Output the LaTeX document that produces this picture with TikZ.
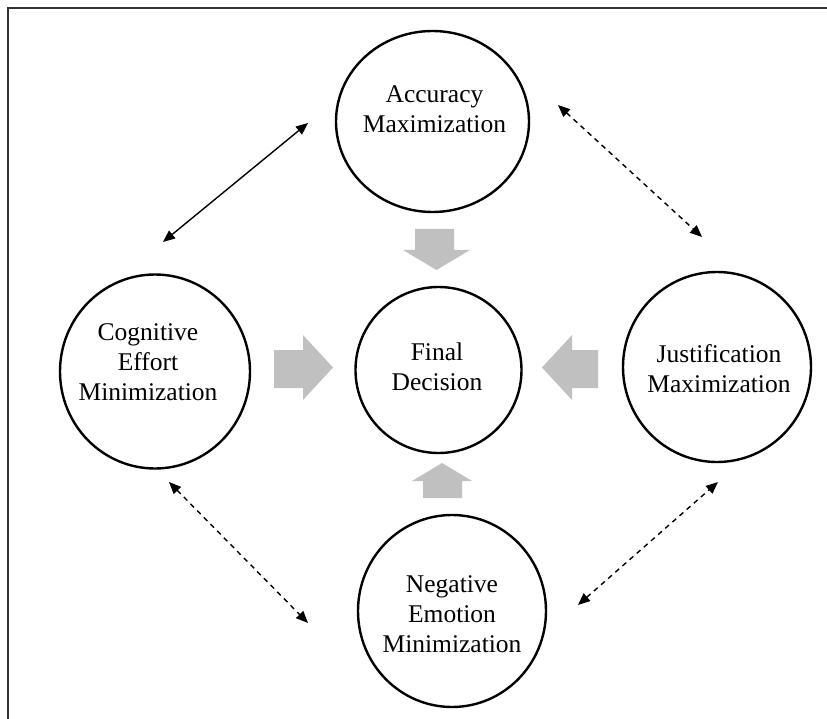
\documentclass[tikz,border=0pt]{standalone}
\usepackage{fontspec}
\setmainfont{Liberation Serif}
\usetikzlibrary{arrows.meta,shapes.geometric}
\definecolor{blockgray}{HTML}{C0C0C0}
\definecolor{framegray}{HTML}{333333}
\begin{document}
\begin{tikzpicture}[x=1pt,y=-1pt,
  oval/.style={ellipse,draw=black,line width=2.4pt,inner sep=0pt},
  txt/.style={align=center,font=\fontsize{25.5}{30}\selectfont,inner sep=0pt},
  link/.style={line width=1.4pt,{Triangle[length=12pt,width=10pt]}-{Triangle[length=12pt,width=10pt]}},
  dlink/.style={link,dash pattern=on 5pt off 4.5pt},
  block/.style={fill=blockgray,draw=none}]
\useasboundingbox (0,0) rectangle (827,719);
% outer frame, open to the right and bottom
\begin{scope}
\clip (0,0) rectangle (827,719);
\draw[framegray,line width=1.8pt] (8,740) -- (8,8) -- (840,8);
\end{scope}

% the five factors
\node[oval,minimum width=193pt,minimum height=181pt] (acc) at (432.5,121.5) {};
\node[oval,minimum width=190pt,minimum height=194pt] (cog) at (155,371.5) {};
\node[oval,minimum width=188pt,minimum height=190pt] (jus) at (717,367) {};
\node[oval,minimum width=188pt,minimum height=192pt] (neg) at (452,611) {};
\node[oval,minimum width=166pt,minimum height=166pt] (fin) at (438.5,370) {};

\node[txt] (acct) at (434.5,109) {Accuracy\\Maximization};
\node[txt] (cogt) at (148,362) {Cognitive\\Effort\\Minimization};
\node[txt] (just) at (719,369) {Justification\\Maximization};
\node[txt] (negt) at (452,614) {Negative\\Emotion\\Minimization};
\node[txt] (fint) at (437,366.5) {Final\\Decision};

% block arrows into the final decision
\fill[block] (274,350) -- (303,350) -- (303,335) -- (333,367.5) -- (303,400) -- (303,388) -- (274,388) -- cycle;
\fill[block] (598,350) -- (572,350) -- (572,335) -- (542,367.5) -- (572,400) -- (572,388) -- (598,388) -- cycle;
\fill[block] (415,229) -- (454,229) -- (454,250) -- (470,250) -- (436.5,270) -- (403,250) -- (415,250) -- cycle;
\fill[block] (423,498) -- (462,498) -- (462,481) -- (472,481) -- (442,463) -- (412,481) -- (423,481) -- cycle;

% relations between the factors
\coordinate (ca1) at (163,242);
\coordinate (ca2) at (308,123);
\coordinate (aj1) at (558,105);
\coordinate (aj2) at (702,237);
\coordinate (cn1) at (169,482);
\coordinate (cn2) at (308,623);
\coordinate (nj1) at (578,605);
\coordinate (nj2) at (718,482);
\draw[link] (ca1) -- (ca2);
\draw[dlink] (aj1) -- (aj2);
\draw[dlink] (cn1) -- (cn2);
\draw[dlink] (nj1) -- (nj2);
\end{tikzpicture}
\end{document}
